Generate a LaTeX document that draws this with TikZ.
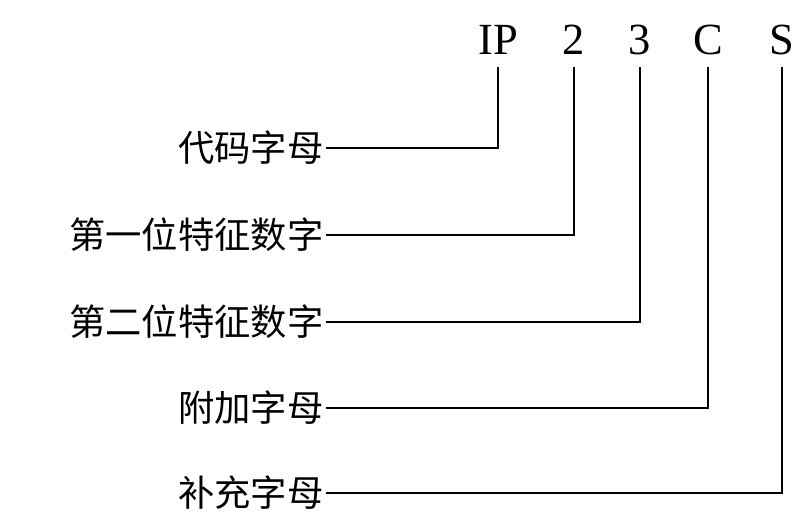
\documentclass[tikz,border=0pt]{standalone}
\usepackage{fontspec}
\setmainfont{Liberation Serif}
\newfontfamily\cjk{Noto Sans CJK SC}
\usetikzlibrary{positioning}
\tikzset{
    code/.style={font=\fontsize{38}{40}\selectfont, inner sep=0pt},
    meaning/.style={font=\cjk\fontsize{31}{34}\selectfont, anchor=east, inner sep=2pt},
    lead/.style={line width=1.2pt}
}
\begin{document}
\begin{tikzpicture}[x=0.03cm, y=-0.03cm]
    \useasboundingbox (0,0) rectangle (800,523);
    % Code letters
    \node[code] (ip) at (498,40) {IP};
    \node[code] (d1) at (574,40) {2};
    \node[code] (d2) at (640,40) {3};
    \node[code] (ca) at (708,40) {C};
    \node[code] (cs) at (782,40) {S};
    % Meanings
    \node[meaning] (n1) at (326,148) {代码字母};
    \node[meaning] (n2) at (326,235) {第一位特征数字};
    \node[meaning] (n3) at (326,322) {第二位特征数字};
    \node[meaning] (n4) at (326,408) {附加字母};
    \node[meaning] (n5) at (326,493) {补充字母};
    % Leaders
    \foreach \c/\n in {ip/n1, d1/n2, d2/n3, ca/n4, cs/n5} {
        \draw[lead] ([yshift=-10pt]\c.south) |- (\n.east);
    }
\end{tikzpicture}
\end{document}
